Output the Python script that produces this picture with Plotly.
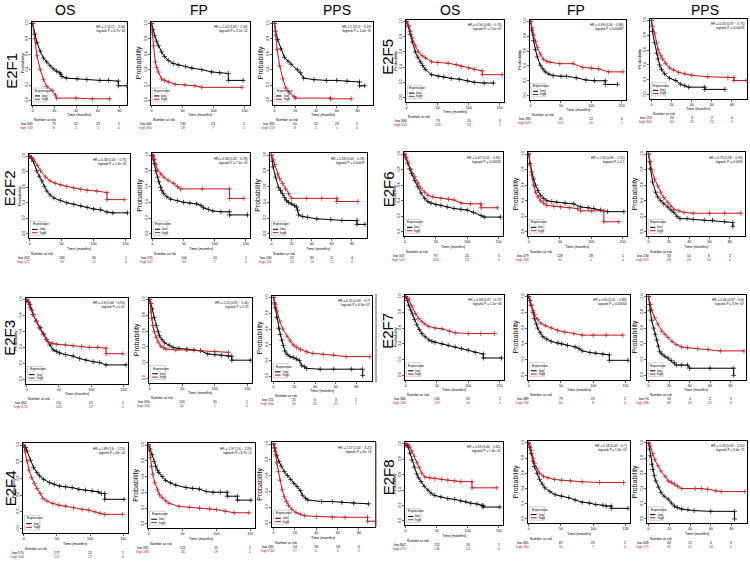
import plotly.graph_objects as go

W, H = 750, 561
FONT = "Liberation Sans, Arial, sans-serif"
RED = "#c8161d"
BLACK = "#000000"

ENDPOINTS = ["OS", "FP", "PPS"]
LEFT_GENES = ["E2F1", "E2F2", "E2F3", "E2F4"]
RIGHT_GENES = ["E2F5", "E2F6", "E2F7", "E2F8"]
TICKS_LONG = [0, 50, 100, 150]
TICKS_SHORT = [0, 20, 40, 60, 80]
Y_TICKS = [0.0, 0.2, 0.4, 0.6, 0.8, 1.0]
Y_LABELS = ["0.0", "0.2", "0.4", "0.6", "0.8", "1.0"]

# ---------------- survival curves (time in months, probability) ----------------
E2F1_OS_LOW = ([0, 2, 4, 7, 10, 13, 16, 19, 22, 25, 26, 27, 31, 41, 50, 62, 70, 79, 79, 87],
               [1, .86, .75, .64, .55, .50, .45, .41, .38, .36, .34, .31, .29, .28, .27, .26, .26, .25, .19, .19])
E2F1_OS_HIGH = ([0, 2, 4, 7, 10, 13, 18, 21, 22, 40, 55, 71],
                [1, .80, .58, .40, .27, .18, .13, .07, .03, .03, .02, .02])
E2F1_FP_LOW = ([0, 2, 5, 8, 11, 16, 21, 27, 35, 43, 55, 65, 81, 97, 110, 124, 124, 148],
               [1, .92, .84, .77, .71, .63, .57, .52, .48, .46, .44, .42, .40, .37, .36, .35, .26, .26])
E2F1_FP_HIGH = ([0, 1, 3, 6, 8, 11, 16, 21, 27, 38, 54, 70, 81, 146],
                [1, .88, .71, .50, .43, .37, .28, .26, .24, .21, .20, .19, .17, .17])
E2F1_PPS_LOW = ([0, 1, 3, 6, 9.5, 13, 16, 22, 25, 28, 38, 50, 60, 70, 82, 82, 87],
                [1, .90, .79, .67, .56, .51, .47, .40, .36, .29, .27, .26, .26, .25, .24, .19, .19])
E2F1_PPS_HIGH = ([0, 1, 2.5, 5, 8, 11, 14, 19, 20, 54, 54, 74],
                 [1, .85, .66, .45, .28, .16, .10, .05, .03, .03, .02, .02])

E2F5_OS_LOW = ([0, 3, 6, 9, 14, 18, 22, 26, 30, 40, 51, 60, 72, 85, 98, 109, 125, 140],
               [1, .93, .83, .73, .60, .53, .47, .42, .37, .30, .28, .27, .25, .24, .22, .20, .19, .19])
E2F5_OS_HIGH = ([0, 3, 6, 9, 14, 19, 25, 30, 40, 50, 67, 80, 88, 100, 109, 122, 122, 154],
                [1, .95, .87, .78, .68, .60, .55, .52, .47, .46, .45, .43, .41, .39, .37, .35, .30, .30])
E2F5_FP_LOW = ([0, 2, 5, 8, 11, 16, 20, 24, 30, 37, 50, 59, 75, 91, 105, 123, 123, 143],
               [1, .88, .74, .62, .52, .41, .36, .32, .29, .27, .26, .26, .24, .21, .20, .20, .15, .15])
E2F5_FP_HIGH = ([0, 2, 5, 8, 11, 16, 21, 27, 32, 48, 70, 86, 100, 112, 128, 152],
                [1, .91, .82, .73, .65, .56, .49, .46, .45, .43, .43, .38, .37, .36, .32, .32])
E2F5_PPS_LOW = ([0, 1, 3, 5, 6.5, 8, 10, 13, 18, 24, 29, 33, 37, 53, 53, 73],
                [1, .85, .70, .56, .48, .40, .34, .28, .22, .19, .14, .12, .10, .10, .07, .07])
E2F5_PPS_HIGH = ([0, 1, 3, 5, 6.5, 9, 11, 14, 18, 22, 27, 33, 40, 56, 76, 82, 82, 94],
                 [1, .92, .83, .70, .61, .53, .48, .42, .36, .33, .30, .28, .26, .24, .23, .23, .19, .19])

E2F2_OS_LOW = ([0, 3, 6, 11, 15, 19, 23, 27, 32, 38, 48, 58, 69, 80, 90, 100, 111, 121, 130, 153],
               [1, .97, .93, .81, .74, .68, .61, .55, .50, .46, .43, .40, .38, .36, .34, .32, .31, .28, .27, .27])
E2F2_OS_HIGH = ([0, 3, 6, 12, 17, 25, 32, 40, 48, 58, 69, 80, 90, 105, 121, 121, 148],
                [1, .98, .96, .88, .81, .73, .68, .65, .63, .61, .59, .57, .56, .55, .53, .44, .44])
E2F2_FP_LOW = ([0, 1, 3, 5, 8, 10, 13, 15, 18, 23, 29, 40, 50, 60, 71, 78, 82, 90, 97, 110, 124, 124, 153],
               [1, .95, .89, .80, .72, .66, .59, .55, .51, .47, .44, .42, .40, .39, .38, .36, .33, .31, .29, .28, .28, .24, .24])
E2F2_FP_HIGH = ([0, 1, 3, 5, 8, 13, 18, 25, 34, 40, 45, 80, 124, 124, 147],
                [1, .98, .94, .88, .81, .76, .72, .68, .64, .60, .57, .57, .57, .45, .45])
E2F2_PPS_LOW = ([0, 1, 1.6, 4, 7, 9, 11, 13, 15, 17, 20, 23, 25, 26, 27, 31, 36, 45, 59, 70, 85, 85, 93],
                [1, .92, .85, .72, .59, .55, .51, .46, .42, .40, .38, .36, .34, .30, .24, .22, .21, .19, .18, .17, .17, .12, .12])
E2F2_PPS_HIGH = ([0, 1.6, 3, 6, 8, 11, 14, 17, 20, 35, 50, 65, 65, 86],
                 [1, .94, .88, .76, .70, .64, .57, .51, .45, .45, .45, .45, .41, .41])

E2F6_OS_LOW = ([0, 2, 5, 8, 11, 16, 21, 26, 32, 37, 42, 50, 58, 68, 79, 90, 100, 110, 122, 127, 153],
               [1, .95, .88, .81, .75, .66, .58, .50, .43, .39, .37, .35, .34, .32, .30, .29, .28, .25, .21, .19, .19])
E2F6_OS_HIGH = ([0, 2, 5, 10, 16, 21, 26, 32, 37, 45, 58, 70, 79, 90, 105, 122, 122, 148],
                [1, .96, .90, .80, .71, .63, .56, .51, .47, .45, .43, .42, .41, .37, .36, .36, .31, .31])
E2F6_FP_LOW = ([0, 2, 5, 8, 11, 15, 19, 24, 29, 37, 45, 58, 72, 83, 95, 104, 115, 126, 152],
               [1, .88, .77, .68, .60, .53, .47, .43, .40, .39, .38, .37, .36, .32, .31, .30, .28, .26, .26])
E2F6_FP_HIGH = ([0, 2, 5, 8, 11, 15, 19, 24, 29, 40, 51, 65, 78, 83, 100, 120, 120, 144],
                [1, .86, .73, .60, .51, .45, .40, .37, .34, .33, .32, .31, .30, .27, .27, .27, .13, .13])
E2F6_PPS_LOW = ([0, 1, 1.6, 4, 7, 9, 12, 15, 19, 22, 25, 28, 31, 38, 44, 55, 63, 75, 83, 83],
                [1, .90, .81, .64, .51, .45, .40, .36, .32, .28, .25, .20, .17, .17, .16, .15, .15, .13, .12, .07])
E2F6_PPS_HIGH = ([0, 1.6, 3, 6, 9, 12, 15, 19, 22, 25, 30, 35, 44, 60, 75, 91],
                 [1, .90, .80, .68, .59, .51, .44, .38, .33, .29, .27, .25, .24, .24, .24, .24])

E2F3_OS_LOW = ([0, 3, 5, 8, 10, 15, 21, 26, 31, 36, 41, 46, 51, 60, 72, 82, 92, 103, 113, 123, 154],
               [1, .97, .94, .87, .81, .73, .65, .57, .50, .43, .37, .35, .33, .31, .29, .26, .24, .22, .21, .18, .18])
E2F3_OS_HIGH = ([0, 3, 5, 10, 15, 20, 26, 30, 33, 40, 46, 60, 72, 85, 97, 110, 123, 123, 149],
                [1, .96, .90, .81, .73, .64, .56, .50, .47, .45, .44, .43, .42, .41, .40, .40, .39, .32, .32])
E2F3_FP_LOW = ([0, 2, 4, 7, 10, 13, 15, 19, 23, 30, 36, 45, 57, 68, 78, 89, 100, 110, 121, 126, 126, 155],
               [1, .95, .88, .77, .67, .59, .54, .49, .45, .42, .39, .38, .37, .36, .35, .31, .30, .29, .28, .28, .23, .23])
E2F3_FP_HIGH = ([0, 1, 2, 3, 5, 7, 10, 13, 17, 21, 25, 40, 57, 78, 100, 121],
                [1, .95, .84, .76, .67, .59, .52, .46, .41, .39, .37, .36, .36, .35, .34, .33])
E2F3_PPS_LOW = ([0, 1, 1.6, 3, 5, 6.5, 8, 9.5, 11, 13, 16, 19, 22, 25, 27, 30, 32, 45, 58, 75, 86, 86],
                [1, .93, .87, .75, .61, .53, .46, .39, .32, .28, .25, .24, .22, .20, .14, .12, .10, .09, .09, .09, .09, .01])
E2F3_PPS_HIGH = ([0, 1.6, 3, 6, 9, 13, 16, 19, 22, 26, 32, 38, 48, 58, 70, 93],
                 [1, .91, .83, .70, .60, .51, .45, .40, .37, .34, .31, .29, .28, .27, .25, .25])

E2F7_OS_LOW = ([0, 3, 5, 8, 11, 14, 18, 22, 26, 31, 37, 42, 47, 58, 68, 79, 89, 100, 111, 124, 124, 153],
               [1, .95, .89, .83, .78, .71, .64, .58, .53, .49, .45, .43, .42, .40, .38, .36, .34, .32, .29, .27, .22, .22])
E2F7_OS_HIGH = ([0, 3, 5, 10, 16, 21, 26, 31, 37, 47, 58, 70, 79, 100, 120, 142],
                [1, .98, .96, .88, .78, .72, .68, .65, .62, .60, .59, .56, .54, .53, .53, .53])
E2F7_FP_LOW = ([0, 2, 4, 7, 9, 12, 14, 18, 22, 28, 35, 45, 51, 60, 72, 78, 83, 95, 104, 115, 125, 125, 154],
               [1, .95, .89, .80, .72, .65, .60, .54, .49, .46, .43, .41, .40, .38, .36, .34, .31, .29, .28, .27, .26, .19, .19])
E2F7_FP_HIGH = ([0, 2, 4, 7, 9, 14, 19, 26, 35, 45, 56, 70, 83, 100, 120, 146],
                [1, .95, .89, .82, .77, .71, .66, .63, .60, .57, .55, .53, .51, .51, .51, .51])
E2F7_PPS_LOW = ([0, 1, 1.6, 3, 5, 6.5, 8, 9.5, 11, 13, 16, 19, 22, 25, 27, 32, 38, 40, 60, 83, 83],
                [1, .90, .82, .70, .60, .52, .45, .37, .30, .27, .24, .22, .19, .16, .13, .13, .13, .09, .09, .09, .0])
E2F7_PPS_HIGH = ([0, 1.6, 3, 6, 9, 13, 16, 19, 23, 27, 32, 38, 48, 58, 70, 93],
                 [1, .90, .83, .73, .65, .56, .52, .48, .43, .39, .36, .35, .34, .33, .31, .31])

E2F4_OS_LOW = ([0, 3, 5, 10, 15, 20, 24, 30, 39, 46, 54, 63, 73, 83, 93, 103, 112, 117, 122, 122, 151],
               [1, .97, .93, .82, .73, .67, .63, .59, .55, .53, .51, .50, .49, .47, .46, .45, .44, .42, .42, .35, .35])
E2F4_OS_HIGH = ([0, 2, 5, 8, 12, 16, 20, 25, 29, 35, 44, 53, 63, 75, 88, 98, 107, 115, 122, 149],
                [1, .93, .81, .70, .61, .54, .48, .42, .36, .33, .30, .28, .27, .25, .23, .22, .20, .18, .17, .17])
E2F4_FP_LOW = ([0, 2, 5, 8, 10, 13, 15, 20, 25, 32, 40, 55, 65, 75, 85, 95, 106, 116, 116, 131, 131, 151],
               [1, .95, .88, .79, .73, .68, .65, .60, .55, .52, .49, .46, .45, .44, .41, .40, .40, .40, .35, .35, .30, .30])
E2F4_FP_HIGH = ([0, 1, 2.5, 4, 6, 9, 13, 16, 20, 25, 30, 45, 60, 75, 90, 100, 113, 126, 148],
                [1, .93, .84, .73, .63, .52, .43, .37, .33, .29, .26, .22, .21, .20, .19, .18, .16, .14, .14])
E2F4_PPS_LOW = ([0, 1, 1.6, 3, 5, 7, 10, 13, 16, 19, 22, 25, 27, 30, 32, 45, 55, 64, 75, 89],
                [1, .95, .91, .85, .78, .72, .65, .60, .55, .50, .46, .41, .35, .31, .29, .27, .27, .26, .25, .24])
E2F4_PPS_HIGH = ([0, 1, 2, 3, 4.5, 6, 8, 10, 12, 14, 17, 21, 25, 29, 40, 55, 67, 88, 88, 96],
                 [1, .95, .87, .76, .65, .54, .42, .33, .27, .22, .17, .13, .11, .09, .08, .07, .07, .07, .02, .02])

E2F8_OS_LOW = ([0, 2, 4, 7, 10, 14, 18, 21, 25, 30, 36, 41, 47, 57, 68, 79, 89, 97, 105, 115, 123, 125, 125, 152],
               [1, .99, .96, .88, .79, .70, .61, .56, .51, .45, .40, .36, .33, .31, .29, .28, .26, .25, .23, .22, .20, .20, .18, .18])
E2F8_OS_HIGH = ([0, 4, 7, 10, 14, 18, 22, 26, 31, 39, 47, 58, 68, 79, 89, 107, 107, 147],
                [1, .99, .96, .91, .84, .76, .69, .62, .57, .56, .55, .54, .53, .52, .51, .51, .43, .43])
E2F8_FP_LOW = ([0, 2, 4, 7, 9, 13, 17, 21, 25, 33, 41, 51, 62, 72, 83, 94, 104, 115, 120, 128, 128, 154],
               [1, .94, .86, .76, .69, .60, .52, .46, .41, .36, .32, .30, .28, .25, .22, .21, .19, .18, .17, .17, .14, .14])
E2F8_FP_HIGH = ([0, 2, 4, 7, 9, 13, 17, 23, 30, 40, 51, 65, 83, 110, 147],
                [1, .96, .90, .80, .73, .66, .60, .56, .54, .52, .51, .50, .49, .48, .48])
E2F8_PPS_LOW = ([0, 1, 1.6, 3, 4, 5.5, 7, 9.5, 12, 15, 19, 22, 25, 28, 32, 38, 44, 60, 83, 83],
                [1, .92, .83, .72, .65, .57, .50, .42, .35, .30, .26, .21, .17, .15, .13, .12, .11, .10, .10, .0])
E2F8_PPS_HIGH = ([0, 1.6, 4, 6, 9, 12, 16, 19, 22, 25, 28, 32, 45, 51, 57, 65, 70, 93],
                 [1, .96, .86, .78, .70, .63, .56, .50, .48, .46, .43, .40, .40, .40, .39, .37, .36, .36])

CURVES = {
    ("E2F1", "OS"): (E2F1_OS_LOW, E2F1_OS_HIGH), ("E2F1", "FP"): (E2F1_FP_LOW, E2F1_FP_HIGH), ("E2F1", "PPS"): (E2F1_PPS_LOW, E2F1_PPS_HIGH),
    ("E2F5", "OS"): (E2F5_OS_LOW, E2F5_OS_HIGH), ("E2F5", "FP"): (E2F5_FP_LOW, E2F5_FP_HIGH), ("E2F5", "PPS"): (E2F5_PPS_LOW, E2F5_PPS_HIGH),
    ("E2F2", "OS"): (E2F2_OS_LOW, E2F2_OS_HIGH), ("E2F2", "FP"): (E2F2_FP_LOW, E2F2_FP_HIGH), ("E2F2", "PPS"): (E2F2_PPS_LOW, E2F2_PPS_HIGH),
    ("E2F6", "OS"): (E2F6_OS_LOW, E2F6_OS_HIGH), ("E2F6", "FP"): (E2F6_FP_LOW, E2F6_FP_HIGH), ("E2F6", "PPS"): (E2F6_PPS_LOW, E2F6_PPS_HIGH),
    ("E2F3", "OS"): (E2F3_OS_LOW, E2F3_OS_HIGH), ("E2F3", "FP"): (E2F3_FP_LOW, E2F3_FP_HIGH), ("E2F3", "PPS"): (E2F3_PPS_LOW, E2F3_PPS_HIGH),
    ("E2F7", "OS"): (E2F7_OS_LOW, E2F7_OS_HIGH), ("E2F7", "FP"): (E2F7_FP_LOW, E2F7_FP_HIGH), ("E2F7", "PPS"): (E2F7_PPS_LOW, E2F7_PPS_HIGH),
    ("E2F4", "OS"): (E2F4_OS_LOW, E2F4_OS_HIGH), ("E2F4", "FP"): (E2F4_FP_LOW, E2F4_FP_HIGH), ("E2F4", "PPS"): (E2F4_PPS_LOW, E2F4_PPS_HIGH),
    ("E2F8", "OS"): (E2F8_OS_LOW, E2F8_OS_HIGH), ("E2F8", "FP"): (E2F8_FP_LOW, E2F8_FP_HIGH), ("E2F8", "PPS"): (E2F8_PPS_LOW, E2F8_PPS_HIGH),
}

# ---------------- numbers at risk (low row, high row) ----------------
RISK_LOW = {
    ("E2F1", "OS"): [300, 75, 32, 23, 5], ("E2F1", "FP"): [460, 130, 23, 1], ("E2F1", "PPS"): [365, 50, 32, 23, 5],
    ("E2F5", "OS"): [300, 75, 15, 0], ("E2F5", "FP"): [285, 41, 12, 0], ("E2F5", "PPS"): [153, 20, 3, 2, 0],
    ("E2F2", "OS"): [452, 180, 36, 1], ("E2F2", "FP"): [270, 104, 20, 1], ("E2F2", "PPS"): [266, 52, 35, 11, 4],
    ("E2F6", "OS"): [347, 97, 24, 1], ("E2F6", "FP"): [479, 128, 28, 1], ("E2F6", "PPS"): [230, 33, 10, 6, 2],
    ("E2F3", "OS"): [462, 111, 25, 1], ("E2F3", "FP"): [490, 120, 31, 1], ("E2F3", "PPS"): [151, 25, 6, 3, 1],
    ("E2F7", "OS"): [366, 130, 32, 1], ("E2F7", "FP"): [389, 79, 23, 1], ("E2F7", "PPS"): [90, 16, 4, 2, 2],
    ("E2F4", "OS"): [570, 177, 21, 1], ("E2F4", "FP"): [331, 122, 15, 1], ("E2F4", "PPS"): [265, 54, 26, 18, 6],
    ("E2F8", "OS"): [802, 152, 26, 1], ("E2F8", "FP"): [361, 87, 25, 1], ("E2F8", "PPS"): [328, 43, 12, 6, 3],
}
RISK_HIGH = {
    ("E2F1", "OS"): [158, 8, 2, 1, 0], ("E2F1", "FP"): [365, 28, 7, 1], ("E2F1", "PPS"): [159, 8, 2, 1, 0],
    ("E2F5", "OS"): [555, 233, 33, 1], ("E2F5", "FP"): [625, 121, 20, 1], ("E2F5", "PPS"): [300, 60, 31, 22, 6],
    ("E2F2", "OS"): [171, 59, 12, 0], ("E2F2", "FP"): [147, 33, 7, 0], ("E2F2", "PPS"): [116, 20, 10, 12, 4],
    ("E2F6", "OS"): [529, 203, 24, 0], ("E2F6", "FP"): [182, 32, 2, 0], ("E2F6", "PPS"): [201, 48, 23, 16, 6],
    ("E2F3", "OS"): [474, 105, 19, 0], ("E2F3", "FP"): [180, 42, 1, 0], ("E2F3", "PPS"): [300, 56, 35, 21, 7],
    ("E2F7", "OS"): [243, 129, 16, 0], ("E2F7", "FP"): [232, 60, 8, 0], ("E2F7", "PPS"): [286, 68, 30, 22, 6],
    ("E2F4", "OS"): [506, 121, 27, 0], ("E2F4", "FP"): [280, 40, 19, 0], ("E2F4", "PPS"): [234, 17, 6, 6, 2],
    ("E2F8", "OS"): [270, 146, 14, 0], ("E2F8", "FP"): [260, 55, 7, 0], ("E2F8", "PPS"): [171, 41, 22, 18, 5],
}

HR_TEXT = {
    ("E2F1", "OS"): ("HR = 2.52 (2 − 3.16)", "logrank P = 6.7e−16"),
    ("E2F1", "FP"): ("HR = 2.02 (1.63 − 2.49)", "logrank P = 3.2e−11"),
    ("E2F1", "PPS"): ("HR = 2.53 (2 − 3.19)", "logrank P = 1.4e−15"),
    ("E2F5", "OS"): ("HR = 0.56 (0.46 − 0.70)", "logrank P = 2.5e−07"),
    ("E2F5", "FP"): ("HR = 0.69 (0.56 − 0.86)", "logrank P = 0.00087"),
    ("E2F5", "PPS"): ("HR = 0.53 (0.37 − 0.75)", "logrank P = 0.00031"),
    ("E2F2", "OS"): ("HR = 0.58 (0.45 − 0.75)", "logrank P = 1.3e−05"),
    ("E2F2", "FP"): ("HR = 0.58 (0.43 − 0.78)", "logrank P = 7.1e−05"),
    ("E2F2", "PPS"): ("HR = 0.58 (0.44 − 0.76)", "logrank P = 0.00029"),
    ("E2F6", "OS"): ("HR = 0.67 (0.55 − 0.82)", "logrank P = 0.00028"),
    ("E2F6", "FP"): ("HR = 1.16 (0.96 − 1.51)", "logrank P = 0.1"),
    ("E2F6", "PPS"): ("HR = 0.73 (0.58 − 0.95)", "logrank P = 0.0096"),
    ("E2F3", "OS"): ("HR = 0.8 (0.66 − 0.95)", "logrank P = 0.01"),
    ("E2F3", "FP"): ("HR = 1.15 (0.95 − 1.40)", "logrank P = 0.15"),
    ("E2F3", "PPS"): ("HR = 0.55 (0.43 − 0.7)", "logrank P = 6.9e−07"),
    ("E2F7", "OS"): ("HR = 0.58 (0.47 − 0.72)", "logrank P = 1.1e−06"),
    ("E2F7", "FP"): ("HR = 0.65 (0.51 − 0.83)", "logrank P = 0.00054"),
    ("E2F7", "PPS"): ("HR = 0.46 (0.37 − 0.6)", "logrank P = 3.9e−07"),
    ("E2F4", "OS"): ("HR = 1.89 (1.6 − 2.25)", "logrank P = 4e−14"),
    ("E2F4", "FP"): ("HR = 1.97 (1.6 − 2.39)", "logrank P = 3.7e−11"),
    ("E2F4", "PPS"): ("HR = 2.57 (2.04 − 3.25)", "logrank P = 6e−16"),
    ("E2F8", "OS"): ("HR = 0.53 (0.44 − 0.65)", "logrank P = 1.3e−10"),
    ("E2F8", "FP"): ("HR = 0.58 (0.45 − 0.7)", "logrank P = 1.3e−07"),
    ("E2F8", "PPS"): ("HR = 0.43 (0.33 − 0.55)", "logrank P = 3.6e−11"),
}

# ---------------- layout: panel boxes in pixels (left, top, right, bottom) ----------------
BOX = {
    ("E2F1", "OS"): (32, 20, 127, 103), ("E2F1", "FP"): (151, 20, 250, 103), ("E2F1", "PPS"): (273, 20, 373, 103),
    ("E2F5", "OS"): (406, 18, 504, 100), ("E2F5", "FP"): (530, 18, 626, 98), ("E2F5", "PPS"): (650, 17, 747, 97),
    ("E2F2", "OS"): (29, 153, 130, 237), ("E2F2", "FP"): (152, 152, 250, 237), ("E2F2", "PPS"): (270, 152, 367, 237),
    ("E2F6", "OS"): (404, 151, 503, 235), ("E2F6", "FP"): (528, 151, 627, 235), ("E2F6", "PPS"): (647, 151, 745, 235),
    ("E2F3", "OS"): (26, 297, 128, 383), ("E2F3", "FP"): (149, 297, 252, 382), ("E2F3", "PPS"): (272, 295, 372, 380),
    ("E2F7", "OS"): (405, 294, 504, 379), ("E2F7", "FP"): (528, 294, 630, 379), ("E2F7", "PPS"): (647, 294, 746, 379),
    ("E2F4", "OS"): (23, 443, 128, 533), ("E2F4", "FP"): (148, 443, 255, 528), ("E2F4", "PPS"): (272, 442, 375, 527),
    ("E2F8", "OS"): (405, 442, 503, 525), ("E2F8", "FP"): (528, 441, 630, 523), ("E2F8", "PPS"): (647, 441, 747, 523),
}
GENE_LABEL_POS = {"E2F1": (12, 69), "E2F2": (9, 187), "E2F3": (10, 337), "E2F4": (10, 488),
                  "E2F5": (388, 55), "E2F6": (388, 188), "E2F7": (388, 330), "E2F8": (388, 477)}
HEADER_POS = [("OS", 65), ("FP", 199), ("PPS", 337), ("OS", 450), ("FP", 576), ("PPS", 705)]

fig = go.Figure()
layout = {}
ann = []
shapes = []


def text(x, y, s, xref="paper", yref="paper", size=4, color=BLACK, xanchor="center",
         yanchor="middle", angle=0, xshift=0, yshift=0, align="center"):
    ann.append(dict(x=x, y=y, text=s, xref=xref, yref=yref, showarrow=False,
                    font=dict(size=size, color=color, family=FONT), xanchor=xanchor,
                    yanchor=yanchor, textangle=angle, xshift=xshift, yshift=yshift,
                    align=align, borderpad=0))


def py(p):
    return 1 - p / H


keys = [(g, e) for pair in zip(LEFT_GENES, RIGHT_GENES) for g in pair for e in ENDPOINTS]

for i, key in enumerate(keys):
    gene, ep = key
    n = i + 1
    sx = "" if n == 1 else str(n)
    l, t, r, b = BOX[key]
    short = (ep == "PPS") or key == ("E2F1", "OS")
    ticks = TICKS_SHORT if short else TICKS_LONG
    xr = [-1.5, 95] if ep == "PPS" else ([-0.6, 87] if key == ("E2F1", "OS") else [-1, 157])
    if key == ("E2F1", "FP"):
        xr = [-1, 159]
    axis_common = dict(showline=True, mirror=True, linecolor=BLACK, linewidth=1,
                       ticks="outside", ticklen=2, tickwidth=0.6, tickcolor=BLACK,
                       showgrid=False, zeroline=False,
                       tickfont=dict(size=3.6, family=FONT, color=BLACK))
    layout["xaxis" + sx] = dict(domain=[l / W, r / W], anchor="y" + sx, range=xr,
                                tickvals=ticks, **axis_common)
    layout["yaxis" + sx] = dict(domain=[py(b), py(t)], anchor="x" + sx, range=[-0.055, 1.02],
                                tickvals=Y_TICKS, ticktext=Y_LABELS, tickangle=-90, **axis_common)

    low, high = CURVES[key]
    for (ts, ss), col, name in [(low, BLACK, "low"), (high, RED, "high")]:
        fig.add_trace(go.Scatter(
            x=ts, y=ss, xaxis="x" + sx, yaxis="y" + sx, mode="lines+markers",
            line=dict(color=col, width=1), name=name, showlegend=False,
            marker=dict(symbol="cross-thin", size=3.5, color=col,
                        line=dict(color=col, width=0.7)),
            hoverinfo="skip"))

    xd, yd = "x" + sx + " domain", "y" + sx + " domain"
    hr1, hr2 = HR_TEXT[key]
    text(0.985, 0.975, hr1 + "<br>" + hr2, xref=xd, yref=yd, size=3.2,
         xanchor="right", yanchor="top", align="right")
    shapes.append(dict(type="rect", xref=xd, yref=yd, x0=0.013, x1=0.16, y0=0.035, y1=0.2,
                       line=dict(color="#888888", width=0.4), fillcolor="rgba(0,0,0,0)"))
    text(0.025, 0.165, "Expression", xref=xd, yref=yd, size=3.2, xanchor="left")
    for yy, col, lab in [(0.105, BLACK, "low"), (0.065, RED, "high")]:
        shapes.append(dict(type="line", xref=xd, yref=yd, x0=0.03, x1=0.085, y0=yy, y1=yy,
                           line=dict(color=col, width=1)))
        text(0.095, yy, lab, xref=xd, yref=yd, size=3.2, xanchor="left")
    text(0.5, py(b + 10.5), "Time (months)", xref=xd, size=3.8)
    big_prob = ep != "OS" and gene != "E2F5"
    text(0, 0.5, "Probability", xref=xd, yref=yd, size=7 if big_prob else 4.3,
         angle=-90, xshift=-12 if big_prob else -10)
    text(0, py(b + 15.5), "Number at risk", xref="x" + sx, size=3.4, xanchor="left")
    for vals, col, lab, off in [(RISK_LOW[key], BLACK, "low", 19.5), (RISK_HIGH[key], RED, "high", 23.5)]:
        for j, (tk, v) in enumerate(zip(ticks, vals)):
            if j == 0:
                text(tk, py(b + off), f"{lab} {v}", xref="x" + sx, size=3.4, color=col,
                     xanchor="right", xshift=1)
            else:
                text(tk, py(b + off), str(v), xref="x" + sx, size=3.4, color=col)

for g, (gx, gy) in GENE_LABEL_POS.items():
    text(gx / W, py(gy), g, size=15, angle=-90)
for h, hx in HEADER_POS:
    text(hx / W, py(8), h, size=14)

for y0, y1 in [(293, 382), (442, 527)]:
    shapes.append(dict(type="line", xref="paper", yref="paper", x0=376 / W, x1=376 / W,
                       y0=py(y1), y1=py(y0), line=dict(color="#777777", width=1.2)))

fig.update_layout(width=W, height=H, margin=dict(l=0, r=0, t=0, b=0),
                  paper_bgcolor="white", plot_bgcolor="white", showlegend=False,
                  annotations=ann, shapes=shapes, **layout)
fig.write_html("out.html", config={"displayModeBar": False, "staticPlot": True},
               post_script="document.body.style.margin='0px';document.body.style.overflow='hidden';")
